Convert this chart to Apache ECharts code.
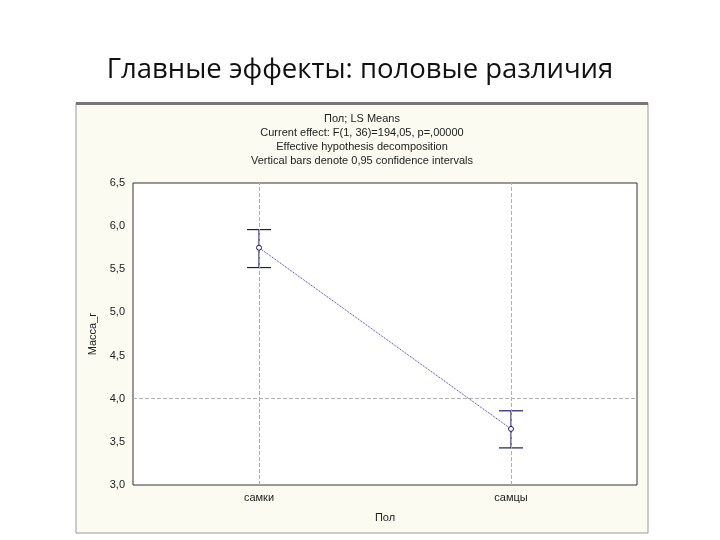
<!DOCTYPE html>
<html>
<head>
<meta charset="utf-8">
<script src="https://cdn.jsdelivr.net/npm/echarts@6/dist/echarts.min.js"></script>
<style>html,body{margin:0;padding:0;background:#fff}#chart{width:720px;height:540px}</style>
</head>
<body>
<div id="chart"></div>
<script>
var categories = ['самки', 'самцы'];
var means = [5.75, 3.65];
var lower = [5.52, 3.43];
var upper = [5.96, 3.86];
var yTicks = ['3,0', '3,5', '4,0', '4,5', '5,0', '5,5', '6,0', '6,5'];

var chart = echarts.init(document.getElementById('chart'));

var errData = [];
for (var i = 0; i < categories.length; i++) {
    errData.push([i, lower[i], upper[i]]);
}

var option = {
    animation: false,
    backgroundColor: '#ffffff',
    graphic: [
        {type: 'rect', shape: {x: 76, y: 103, width: 572, height: 430}, z: -10,
         style: {fill: '#fbfbf1', stroke: '#9a9a9a', lineWidth: 1}},
        {type: 'rect', shape: {x: 76, y: 102, width: 572, height: 3}, z: -9,
         style: {fill: '#777'}},
        {type: 'text', left: 'center', top: 56, z: 10,
         style: {text: 'Главные эффекты: половые различия', font: '27.5px "Open Sans"', fill: '#111'}},
        {type: 'text', x: 362, y: 112, z: 10,
         style: {text: 'Пол; LS Means\nCurrent effect: F(1, 36)=194,05, p=,00000\nEffective hypothesis decomposition\nVertical bars denote 0,95 confidence intervals',
                 font: '11px "Liberation Sans"', fill: '#222', align: 'center', lineHeight: 14}}
    ],
    grid: {left: 133, right: 83, top: 183, bottom: 55, show: true,
           backgroundColor: '#ffffff', borderColor: '#333', borderWidth: 1},
    xAxis: {
        type: 'category', data: categories,
        name: 'Пол', nameLocation: 'middle', nameGap: 27,
        nameTextStyle: {fontFamily: 'Liberation Sans', fontSize: 11, color: '#222'},
        axisLine: {show: false}, axisTick: {show: false},
        axisLabel: {fontFamily: 'Liberation Sans', fontSize: 11, color: '#222', margin: 7},
        splitLine: {show: false}
    },
    yAxis: {
        type: 'value', min: 3, max: 6.5, interval: 0.5,
        name: 'Масса_г', nameLocation: 'middle', nameGap: 35,
        nameTextStyle: {fontFamily: 'Liberation Sans', fontSize: 11, color: '#222'},
        axisLine: {show: false}, axisTick: {show: false},
        axisLabel: {fontFamily: 'Liberation Sans', fontSize: 11, color: '#222', margin: 8,
                    formatter: function(v){ return yTicks[Math.round((v - 3) / 0.5)]; }},
        splitLine: {show: false}
    },
    series: [
        {
            type: 'line', data: means,
            lineStyle: {color: '#2a2ad0', width: 1, type: 'dotted'},
            symbol: 'circle', symbolSize: 5,
            itemStyle: {color: '#ffffff', borderColor: '#1a1a6a', borderWidth: 1},
            markLine: {
                silent: true, symbol: 'none', label: {show: false},
                lineStyle: {color: '#b0b0b0', type: 'dashed', width: 1},
                data: [{yAxis: 4}, {xAxis: 'самки'}, {xAxis: 'самцы'}]
            },
            z: 5
        },
        {
            type: 'custom', data: errData, z: 4,
            renderItem: function(params, api) {
                var lo = api.coord([api.value(0), api.value(1)]);
                var hi = api.coord([api.value(0), api.value(2)]);
                var w = 12;
                var st = {stroke: '#1a1a6a', lineWidth: 1.2};
                return {type: 'group', children: [
                    {type: 'line', shape: {x1: lo[0], y1: lo[1], x2: hi[0], y2: hi[1]}, style: st},
                    {type: 'line', shape: {x1: lo[0]-w, y1: lo[1], x2: lo[0]+w, y2: lo[1]}, style: st},
                    {type: 'line', shape: {x1: hi[0]-w, y1: hi[1], x2: hi[0]+w, y2: hi[1]}, style: st}
                ]};
            }
        }
    ]
};
chart.setOption(option);
</script>
</body>
</html>
